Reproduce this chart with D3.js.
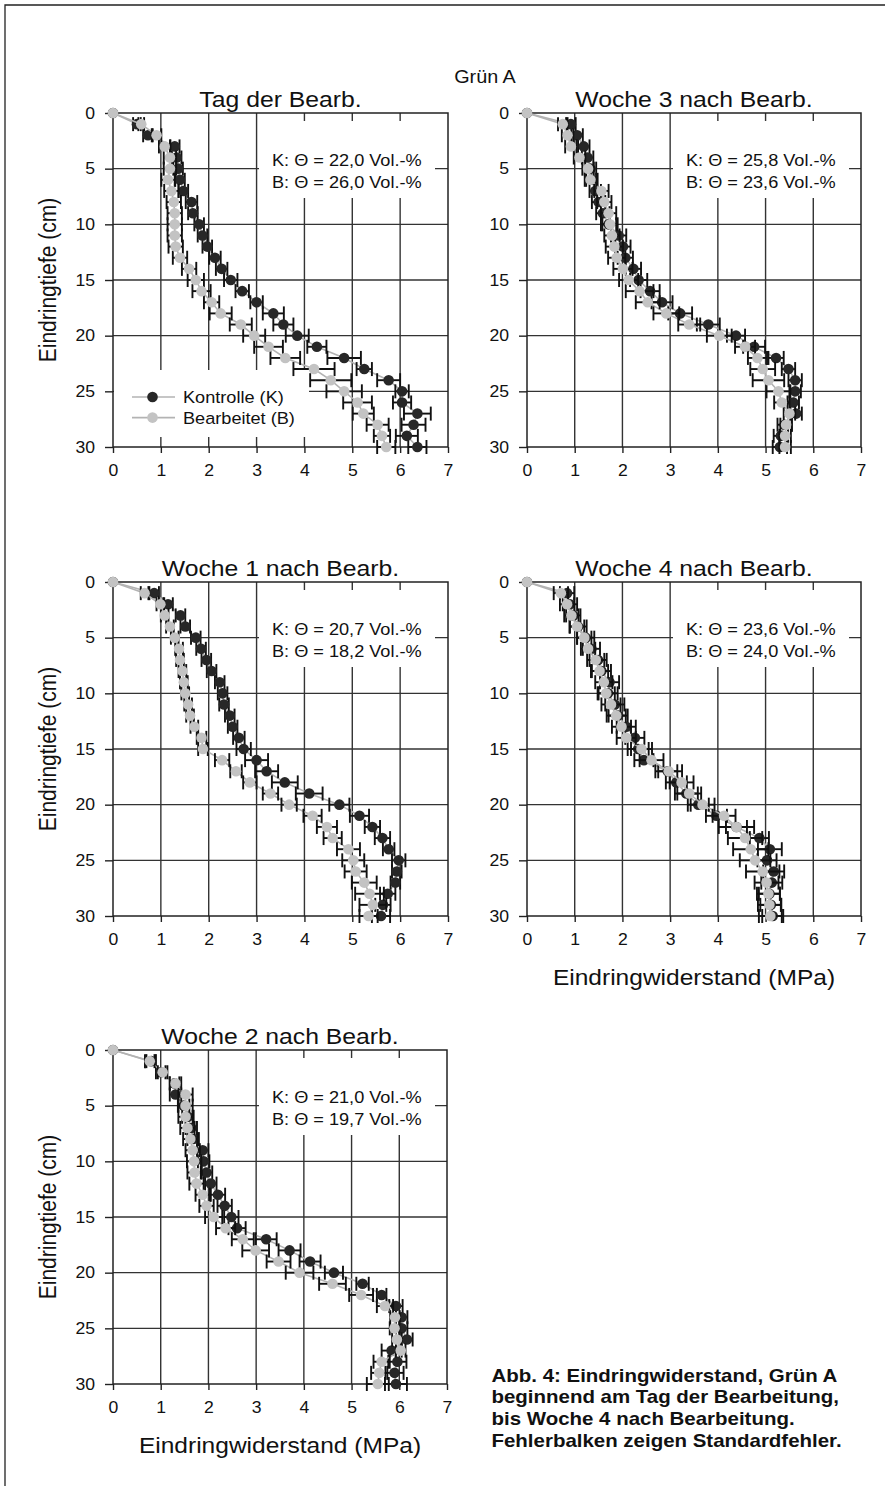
<!DOCTYPE html>
<html><head><meta charset="utf-8">
<script src="https://cdn.jsdelivr.net/npm/d3@7"></script>
<style>
body{margin:0;background:#fff}
svg{display:block}
text{font-family:"Liberation Sans",Arial,Helvetica,sans-serif;fill:#111}
</style>
</head><body>
<svg id="c" width="885" height="1486"></svg>
<script>
// ---------- data ----------
const depths = [0,1,2,3,4,5,6,7,8,9,10,11,12,13,14,15,16,17,18,19,20,21,22,23,24,25,26,27,28,29,30];
const xTicks = [0,1,2,3,4,5,6,7];
const yTicks = [0,5,10,15,20,25,30];
const seriesNames = ["Kontrolle (K)", "Bearbeitet (B)"];
const panelTitles = ["Tag der Bearb.", "Woche 3 nach Bearb.", "Woche 1 nach Bearb.", "Woche 4 nach Bearb.", "Woche 2 nach Bearb."];
const thetaK = ["22,0", "25,8", "20,7", "23,6", "21,0"];
const thetaB = ["26,0", "23,6", "18,2", "24,0", "19,7"];

// Tag der Bearbeitung
const tagK    = [0,0.50,0.73,1.29,1.33,1.36,1.40,1.47,1.64,1.67,1.80,1.87,1.97,2.13,2.27,2.46,2.70,3.00,3.35,3.56,3.85,4.26,4.83,5.25,5.76,6.04,6.04,6.36,6.28,6.14,6.36];
const tagKerr = [0,0.08,0.10,0.10,0.10,0.10,0.10,0.10,0.12,0.10,0.10,0.10,0.10,0.12,0.12,0.14,0.14,0.13,0.22,0.21,0.24,0.20,0.35,0.16,0.24,0.14,0.19,0.28,0.25,0.23,0.19];
const tagB    = [0,0.59,0.91,1.08,1.19,1.19,1.15,1.22,1.27,1.29,1.29,1.29,1.31,1.40,1.59,1.73,1.85,2.06,2.25,2.67,2.95,3.25,3.60,4.20,4.55,4.83,5.11,5.23,5.53,5.62,5.71];
const tagBerr = [0,0.06,0.10,0.12,0.13,0.13,0.14,0.15,0.15,0.15,0.15,0.15,0.15,0.15,0.15,0.17,0.19,0.16,0.23,0.23,0.23,0.30,0.31,0.43,0.43,0.37,0.30,0.22,0.23,0.17,0.19];
// Woche 3
const w3K    = [0,0.92,1.05,1.19,1.27,1.33,1.36,1.43,1.50,1.59,1.71,1.92,2.01,2.06,2.23,2.34,2.58,2.83,3.21,3.80,4.38,4.76,5.22,5.48,5.62,5.62,5.58,5.64,5.40,5.32,5.30];
const w3Kerr = [0,0.10,0.12,0.12,0.12,0.12,0.12,0.12,0.14,0.14,0.16,0.16,0.16,0.16,0.16,0.18,0.20,0.22,0.25,0.24,0.19,0.23,0.16,0.14,0.14,0.12,0.12,0.12,0.15,0.15,0.15];
const w3B    = [0,0.75,0.85,0.92,1.10,1.28,1.33,1.56,1.62,1.71,1.74,1.78,1.83,1.88,2.01,2.13,2.36,2.53,2.92,3.40,4.03,4.57,4.83,4.94,5.06,5.27,5.34,5.50,5.43,5.41,5.41];
const w3Berr = [0,0.10,0.12,0.12,0.12,0.12,0.12,0.15,0.15,0.16,0.16,0.16,0.18,0.18,0.20,0.20,0.29,0.25,0.27,0.23,0.26,0.21,0.20,0.26,0.33,0.25,0.16,0.12,0.12,0.12,0.12];
// Woche 1
const w1K    = [0,0.86,1.15,1.41,1.51,1.73,1.84,1.95,2.06,2.23,2.29,2.32,2.44,2.50,2.63,2.73,3.00,3.21,3.59,4.10,4.73,5.15,5.42,5.63,5.76,5.97,5.93,5.90,5.74,5.64,5.60];
const w1Kerr = [0,0.10,0.10,0.10,0.10,0.10,0.10,0.10,0.10,0.10,0.10,0.10,0.10,0.10,0.12,0.15,0.24,0.24,0.27,0.28,0.21,0.20,0.16,0.16,0.12,0.14,0.10,0.10,0.16,0.16,0.19];
const w1B    = [0,0.66,0.99,1.08,1.19,1.29,1.38,1.40,1.45,1.48,1.51,1.57,1.61,1.70,1.85,1.88,2.28,2.57,2.86,3.29,3.68,4.17,4.47,4.59,4.92,5.02,5.07,5.25,5.36,5.43,5.34];
const w1Berr = [0,0.08,0.08,0.08,0.08,0.08,0.08,0.08,0.08,0.08,0.08,0.08,0.08,0.08,0.10,0.10,0.15,0.12,0.14,0.16,0.16,0.19,0.21,0.19,0.24,0.23,0.23,0.26,0.30,0.28,0.19];
// Woche 4
const w4K    = [0,0.84,0.90,0.97,1.07,1.23,1.35,1.49,1.56,1.73,1.70,1.84,1.91,2.08,2.26,2.33,2.45,2.95,3.13,3.34,3.59,3.97,4.39,4.87,5.09,5.03,5.17,5.13,5.08,5.11,5.15];
const w4Kerr = [0,0.15,0.15,0.15,0.18,0.18,0.18,0.18,0.20,0.20,0.20,0.20,0.20,0.20,0.20,0.22,0.20,0.20,0.22,0.24,0.22,0.22,0.22,0.20,0.25,0.20,0.22,0.22,0.22,0.22,0.22];
const w4B    = [0,0.71,0.84,0.93,1.05,1.20,1.28,1.44,1.52,1.61,1.66,1.76,1.87,1.98,2.08,2.40,2.61,2.97,3.24,3.40,3.68,4.13,4.39,4.57,4.69,4.78,4.94,5.02,5.06,5.08,5.10];
const w4Berr = [0,0.15,0.15,0.15,0.15,0.15,0.15,0.18,0.18,0.18,0.18,0.20,0.20,0.20,0.20,0.22,0.25,0.28,0.25,0.25,0.25,0.24,0.37,0.36,0.37,0.32,0.35,0.25,0.24,0.24,0.24];
// Woche 2
const w2K    = [0,0.80,1.00,1.29,1.31,1.48,1.57,1.64,1.68,1.88,1.90,1.96,2.05,2.20,2.34,2.48,2.60,3.21,3.70,4.13,4.63,5.23,5.63,5.93,6.05,6.05,6.16,5.84,5.96,5.90,5.93];
const w2Kerr = [0,0.10,0.10,0.10,0.12,0.12,0.12,0.12,0.12,0.12,0.12,0.12,0.12,0.15,0.15,0.15,0.18,0.22,0.23,0.22,0.19,0.13,0.10,0.14,0.12,0.12,0.12,0.21,0.19,0.19,0.23];
const w2B    = [0,0.77,1.04,1.31,1.52,1.52,1.52,1.56,1.62,1.67,1.70,1.71,1.75,1.88,1.96,2.11,2.36,2.72,2.99,3.47,3.91,4.60,5.20,5.70,5.91,5.90,5.95,6.03,5.63,5.58,5.55];
const w2Berr = [0,0.10,0.10,0.12,0.15,0.15,0.15,0.15,0.15,0.15,0.15,0.15,0.15,0.15,0.15,0.18,0.20,0.23,0.28,0.25,0.29,0.28,0.25,0.17,0.10,0.10,0.10,0.10,0.17,0.17,0.23];

const captionLines = ["Abb. 4: Eindringwiderstand, Grün A","beginnend am Tag der Bearbeitung,","bis Woche 4 nach Bearbeitung.","Fehlerbalken zeigen Standardfehler."];

// ---------- layout ----------
const SX = 1.1; // horizontal stretch of the original artwork
const panels = [
  {i:0, K:tagK, Ke:tagKerr, B:tagB, Be:tagBerr, x0:113, x1:448, y0:113, y1:447, ylab:true,  xlab:false, legend:true},
  {i:1, K:w3K,  Ke:w3Kerr,  B:w3B,  Be:w3Berr,  x0:527, x1:861, y0:113, y1:447, ylab:false, xlab:false, legend:false},
  {i:2, K:w1K,  Ke:w1Kerr,  B:w1B,  Be:w1Berr,  x0:113, x1:448, y0:582, y1:916, ylab:true,  xlab:false, legend:false},
  {i:3, K:w4K,  Ke:w4Kerr,  B:w4B,  Be:w4Berr,  x0:527, x1:861, y0:582, y1:916, ylab:false, xlab:true,  legend:false},
  {i:4, K:w2K,  Ke:w2Kerr,  B:w2B,  Be:w2Berr,  x0:113, x1:447, y0:1050, y1:1384, ylab:true, xlab:true, legend:false}
];
const colK = "#272727", colB = "#c3c3c3", colLine = "#b3b3b3", colGrid = "#333", colBar = "#111";

const svg = d3.select("#c");
svg.append("rect").attr("width",885).attr("height",1486).attr("fill","#fff");

// outer frame
svg.append("path").attr("d","M5,1486 V5 H885").attr("fill","none").attr("stroke","#222").attr("stroke-width",1.3);

function stext(g, x, y, str, size, anchor, weight){
  return g.append("text")
    .attr("transform",`translate(${x},${y}) scale(${SX},1)`)
    .attr("text-anchor",anchor||"start")
    .style("font-size",size+"px")
    .style("font-weight",weight||"normal")
    .text(str);
}

stext(svg, 485, 83, "Grün A", 18, "middle");

panels.forEach(p=>{
  const x = d3.scaleLinear().domain([0,7]).range([p.x0,p.x1]);
  const y = d3.scaleLinear().domain([0,30]).range([p.y0,p.y1]);
  const g = svg.append("g");

  // grid
  g.append("g").selectAll("line.v").data(xTicks.slice(1,-1)).join("line")
    .attr("x1",d=>x(d)).attr("x2",d=>x(d)).attr("y1",p.y0).attr("y2",p.y1)
    .attr("stroke",colGrid).attr("stroke-width",1.4);
  g.append("g").selectAll("line.h").data(yTicks.slice(1,-1)).join("line")
    .attr("y1",d=>y(d)).attr("y2",d=>y(d)).attr("x1",p.x0).attr("x2",p.x1)
    .attr("stroke",colGrid).attr("stroke-width",1.4);

  // annotation box
  g.append("rect").attr("x",p.x0+146).attr("y",p.y0+8).attr("width",176).attr("height",77).attr("fill","#fff");
  if(p.legend){
    g.append("rect").attr("x",p.x0+1).attr("y",p.y0+257).attr("width",195).attr("height",67).attr("fill","#fff");
  }

  // frame
  g.append("rect").attr("x",p.x0).attr("y",p.y0).attr("width",p.x1-p.x0).attr("height",p.y1-p.y0)
    .attr("fill","none").attr("stroke","#222").attr("stroke-width",1.5);

  // axes
  const ax = g.append("g").attr("transform",`translate(${p.x0},0)`)
    .call(d3.axisLeft(y).tickValues(yTicks).tickSize(8).tickPadding(10).tickFormat(d3.format("d")));
  ax.select(".domain").remove();
  ax.selectAll(".tick line").attr("stroke","#222").attr("stroke-width",1.4);
  ax.selectAll(".tick text").style("font-size","16px").attr("fill","#111")
    .attr("x",null).attr("transform",`translate(-18,0) scale(${SX},1)`).attr("font-family",null);

  const bx = g.append("g").attr("transform",`translate(0,${p.y1})`)
    .call(d3.axisBottom(x).tickValues(xTicks).tickSize(6).tickPadding(12).tickFormat(d3.format("d")));
  bx.select(".domain").remove();
  bx.selectAll(".tick line").attr("stroke","#222").attr("stroke-width",1.4);
  bx.selectAll(".tick text").style("font-size","16px").attr("fill","#111")
    .attr("transform",`scale(${SX},1)`).attr("font-family",null)
    .attr("x",null);

  // title
  stext(g, (p.x0+p.x1)/2, p.y0-6.5, panelTitles[p.i], 22.5, "middle");

  if(p.ylab){
    g.append("text").attr("transform",`translate(48,${(p.y0+p.y1)/2}) scale(${SX},1) rotate(-90)`)
      .attr("text-anchor","middle").attr("dy","0.36em").style("font-size","21px").text("Eindringtiefe (cm)");
  }
  if(p.xlab){
    stext(g, (p.x0+p.x1)/2, p.y1+69, "Eindringwiderstand (MPa)", 22.3, "middle");
  }

  // annotation text
  stext(g, p.x0+159, p.y0+53, `K: \u0398 = ${thetaK[p.i]} Vol.-%`, 16.5, "start");
  stext(g, p.x0+159, p.y0+75, `B: \u0398 = ${thetaB[p.i]} Vol.-%`, 16.5, "start");

  // series
  const line = d3.line().x(d=>x(d[0])).y(d=>y(d[1]));
  const drawSeries = (vals, errs, fill)=>{
    const pts = depths.map((d,k)=>[vals[k], d, errs[k]]);
    g.append("path").attr("d", line(pts)).attr("fill","none").attr("stroke",colLine).attr("stroke-width",1.6);
    const eb = g.append("g").attr("stroke",colBar).attr("stroke-width",1.9);
    pts.filter(q=>q[2]>0).forEach(q=>{
      const yy = y(q[1]), xl = x(q[0]-q[2]), xr = x(q[0]+q[2]);
      eb.append("line").attr("x1",xl).attr("x2",xr).attr("y1",yy).attr("y2",yy);
      eb.append("line").attr("x1",xl).attr("x2",xl).attr("y1",yy-7).attr("y2",yy+7);
      eb.append("line").attr("x1",xr).attr("x2",xr).attr("y1",yy-7).attr("y2",yy+7);
    });
    g.append("g").selectAll("circle").data(pts).join("circle")
      .attr("cx",q=>x(q[0])).attr("cy",q=>y(q[1])).attr("r",5.3).attr("fill",fill);
  };
  drawSeries(p.K, p.Ke, colK);
  drawSeries(p.B, p.Be, colB);

  if(p.legend){
    const rows = [[colK, seriesNames[0]], [colB, seriesNames[1]]];
    rows.forEach((r,k)=>{
      const yy = p.y0 + 284 + k*20.6;
      g.append("line").attr("x1",p.x0+19).attr("x2",p.x0+62).attr("y1",yy).attr("y2",yy)
        .attr("stroke",colLine).attr("stroke-width",1.6);
      g.append("circle").attr("cx",p.x0+39.5).attr("cy",yy).attr("r",5.3).attr("fill",r[0]);
      stext(g, p.x0+70, yy+6, r[1], 16.5, "start");
    });
  }
});

// caption
captionLines.forEach((t,k)=>{
  stext(svg, 491.5, 1381.7 + k*21.7, t, 18.6, "start", "bold");
});
</script>
</body></html>
